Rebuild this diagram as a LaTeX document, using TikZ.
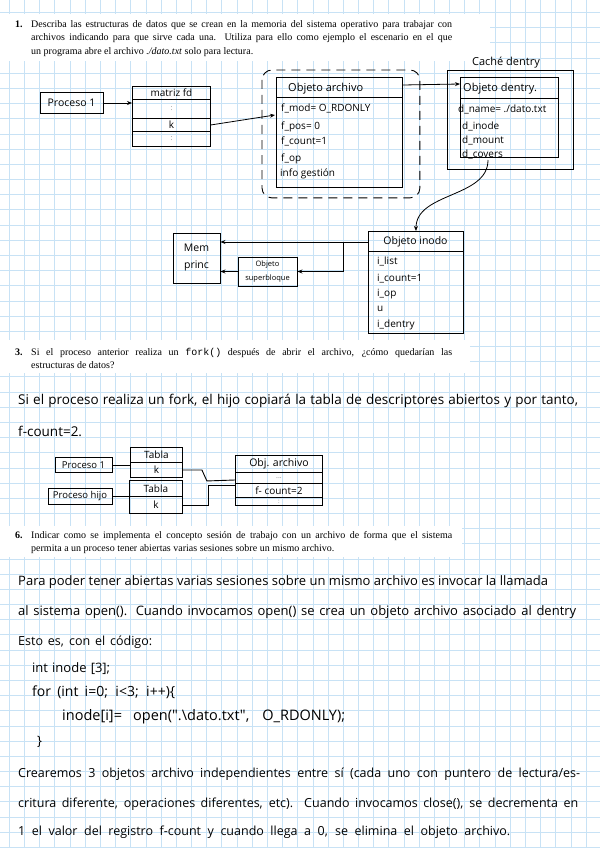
\documentclass[tikz,border=0pt]{standalone}
\usepackage{fontspec}
\setmainfont{Liberation Serif}
\setmonofont{Liberation Mono}
\newfontfamily\hand{Open Sans}
\usetikzlibrary{arrows.meta,calc}
\definecolor{gridblue}{RGB}{200,226,245}
\newcommand\hwl[2]{\makebox[#1][s]{#2}}
\newcommand\hs[1]{\hand\fontsize{#1}{#1}\selectfont}
\begin{document}
\begin{tikzpicture}[x=1pt,y=-1pt,
  hw/.style={font=\hs{10}, inner sep=0pt, anchor=base west},
  pr/.style={font=\fontsize{10}{12}\selectfont, inner sep=0pt, anchor=base west},
  box/.style={draw, line width=0.9pt, inner sep=0pt, font=\hs{10}},
  arr/.style={-{Stealth[length=5pt,width=4pt]}, line width=0.8pt},
  ln/.style={line width=0.9pt}]
\useasboundingbox (0,0) rectangle (600,848);
\fill[white] (0,0) rectangle (600,848);
\foreach \i in {0,...,39} \draw[gridblue, line width=0.8pt] ({9.3+15.18*\i},0) -- ({9.3+15.18*\i},848);
\foreach \i in {0,...,55} \draw[gridblue, line width=0.8pt] (0,{12.5+15.18*\i}) -- (600,{12.5+15.18*\i});
% white blocks behind printed questions
\fill[white] (0,14) rectangle (490,61);
\fill[white] (0,340) rectangle (470,373);
\fill[white] (0,526) rectangle (462,557);

% ---------- Question 1 ----------
\node[pr, font=\bfseries\fontsize{10}{12}\selectfont] (n1) at (15,27.5) {1.};
\node[pr] (q1a) at (31,27.5) {\makebox[421pt][s]{Describa las estructuras de datos que se crean en la memoria del sistema operativo para trabajar con}};
\node[pr] (q1b) at (31,40.8) {\makebox[421pt][s]{archivos indicando para que sirve cada una. Utiliza para ello como ejemplo el escenario en el que}};
\node[pr] (q1c) at (31,54.1) {un programa abre el archivo \textit{./dato.txt} solo para lectura.};

% Proceso 1 and matriz fd
\node[box, font=\hs{10.5}, minimum width=63pt, minimum height=21pt] (p1) at (71.5,103) {Proceso 1};
\node[box, minimum width=78pt, minimum height=13pt, anchor=north west] (mh) at (132,86) {matriz fd};
\node[box, font=\hs{7}, minimum width=78pt, minimum height=19pt, anchor=north west, text=gray] (m1) at (132,99) {:};
\node[box, minimum width=78pt, minimum height=13pt, anchor=north west] (mk) at (132,118) {k};
\node[box, font=\hs{7}, minimum width=78pt, minimum height=15pt, anchor=north west, text=gray] (m3) at (132,131) {:};
\draw[arr] (p1.east) -- (p1.east -| mh.west);

% Objeto archivo
\node[box, minimum width=126pt, minimum height=110pt, anchor=north west] (oa) at (276,77) {};
\draw[ln] ($(oa.north west)+(0,20)$) -- ($(oa.north east)+(0,20)$);
\draw[dashed, dash pattern=on 9pt off 6pt, rounded corners=10pt, line width=0.9pt]
  ($(oa.north west)+(-14,-7)$) rectangle ($(oa.south east)+(17,10)$);
\node[hw, font=\hs{11}] (oah) at (288,92) {Objeto archivo};
\node[hw] (fmod) at (281,112) {f\_mod= O\_RDONLY};
\node[hw] (fpos) at (281,130) {f\_pos= 0};
\node[hw] (fcnt) at (281,144) {f\_count=1};
\node[hw] (fop) at (281,161) {f\_op};
\node[hw] (finf) at (280,176) {info gestión};
\coordinate (oain) at (275,115);
\draw[arr] (mk.east) -- (oain);

% Cache dentry
\node[box, minimum width=126pt, minimum height=99pt, anchor=north west] (cd) at (447,70) {};
\node[hw, font=\hs{11}, anchor=base] (cdl) at (506,66) {Caché dentry};
\node[box, minimum width=98pt, minimum height=80pt, anchor=north west] (od) at (460,77) {};
\draw[ln] ($(od.north west)+(0,21)$) -- ($(od.north east)+(0,21)$);
\node[hw, font=\hs{11}] (odh) at (463,92) {Objeto dentry.};
\node[hw] (dnam) at (458,113) {d\_name= ./dato.txt};
\node[hw] (dino) at (462,129) {d\_inode};
\node[hw] (dmnt) at (462,143) {d\_mount};
\node[hw] (dcov) at (462,157.5) {d\_covers};
\draw[arr] ($(oa.north east)+(0,8)$) -- ($(od.north west)+(0,7)$);

% Objeto inodo
\node[box, minimum width=95pt, minimum height=102pt, anchor=north west] (oi) at (368,231) {};
\draw[ln] ($(oi.north west)+(0,20)$) -- ($(oi.north east)+(0,20)$);
\node[hw, font=\hs{10.5}, anchor=center] (oih) at (415.5,242) {Objeto inodo};
\node[hw] (ilst) at (377,264) {i\_list};
\node[hw] (icnt) at (377,281) {i\_count=1};
\node[hw] (iop) at (377,296) {i\_op};
\node[hw] (iu) at (377,311) {u};
\node[hw] (iden) at (377,327) {i\_dentry};
\coordinate (cv) at (488,160);
\draw[arr] (cv) .. controls (488,198) and (416,192) .. (oi.north);

% Mem princ and superbloque
\node[box, font=\hand\fontsize{10.5}{17}\selectfont, align=center, minimum width=47pt, minimum height=50pt] (mp) at (196.5,258) {Mem\\princ};
\node[box, font=\hand\fontsize{7.5}{14}\selectfont, align=center, minimum width=59pt, minimum height=29pt] (sb) at (267.5,271.5) {Objeto\\superbloque};
\coordinate (br) at (343,242);
\draw[arr] (oi.west |- oih) -- (mp.east |- oih);
\draw[arr] (br) |- (sb.east);
\draw[arr] (sb.west) -- (sb.west -| mp.east);

% ---------- Question 3 ----------
\node[pr, font=\bfseries\fontsize{10}{12}\selectfont] (n3) at (15,355.5) {3.};
\node[pr] (q3a) at (31,355.5) {\makebox[421pt][s]{Si el proceso anterior realiza un \texttt{fork()} después de abrir el archivo, ¿cómo quedarían las}};
\node[pr] (q3b) at (31,368.8) {estructuras de datos?};
\node[hw, font=\hs{13.5}] (a3a) at (18,404) {\hwl{560pt}{Si el proceso realiza un fork, el hijo copiará la tabla de descriptores abiertos y por tanto,}};
\node[hw, font=\hs{13.5}] (a3b) at (18,436) {f-count=2.};

% diagram 2
\node[box, font=\hs{9.5}, minimum width=57pt, minimum height=15pt] (q1p) at (83.5,465) {Proceso 1};
\node[box, font=\hs{9.5}, minimum width=64pt, minimum height=16pt] (qhp) at (80,496.5) {Proceso hijo};
\node[box, font=\hs{10}, minimum width=52pt, minimum height=15pt, anchor=north west] (t1h) at (130,447) {Tabla};
\node[box, font=\hs{10}, minimum width=52pt, minimum height=15pt, anchor=north west] (t1k) at (130,462) {k};
\node[box, font=\hs{10}, minimum width=53pt, minimum height=16pt, anchor=north west] (t2h) at (129,480) {Tabla};
\node[box, font=\hs{10}, minimum width=53pt, minimum height=17pt, anchor=north west] (t2k) at (129,496) {k};
\node[box, font=\hs{10.5}, minimum width=87pt, minimum height=17pt, anchor=north west] (ob) at (235,455) {Obj. archivo};
\node[box, font=\hs{7}, minimum width=87pt, minimum height=11pt, anchor=north west, text=gray] (ob1) at (235,472) {...};
\node[box, font=\hs{10}, minimum width=87pt, minimum height=14pt, anchor=north west] (ob2) at (235,483) {f- count=2};
\node[box, font=\hs{6}, minimum width=87pt, minimum height=8pt, anchor=north west, text=gray] (ob3) at (235,497) {:};
\draw[ln] (q1p.east) -- (q1p.east -| t1h.west);
\draw[ln] (qhp.east) -- (qhp.east -| t2h.west);
\coordinate (in1) at (235,480);
\coordinate (in2) at (235,485);
\draw[ln] (t1k.east) -- ++(19,0) -- ++(5,11) -- (in1);
\draw[ln] (t2k.east) -- ++(26,0) |- (in2);

% ---------- Question 6 ----------
\node[pr, font=\bfseries\fontsize{10}{12}\selectfont] (n6) at (15,538.5) {6.};
\node[pr] (q6a) at (31,538.5) {\makebox[421pt][s]{Indicar como se implementa el concepto sesión de trabajo con un archivo de forma que el sistema}};
\node[pr] (q6b) at (31,551.8) {permita a un proceso tener abiertas varias sesiones sobre un mismo archivo.};

\node[hw, font=\hs{13}] (a6a) at (18,585) {\hwl{530pt}{Para poder tener abiertas varias sesiones sobre un mismo archivo es invocar la llamada}};
\node[hw, font=\hs{13}] (a6b) at (18,615) {\hwl{558pt}{al sistema open(). Cuando invocamos open() se crea un objeto archivo asociado al dentry}};
\node[hw, font=\hs{12.5}] (a6c) at (18,645) {\hwl{134pt}{Esto es, con el código:}};
\node[hw, font=\hs{13}] (c1) at (32,672) {\hwl{78pt}{int inode [3];}};
\node[hw, font=\hs{14}] (c2) at (32,696) {\hwl{143pt}{for (int i=0; i<3; i++)\{}};
\node[hw, font=\hs{14.5}] (c3) at (62,720) {\hwl{283pt}{inode[i]= open(".\textbackslash dato.txt", O\_RDONLY);}};
\node[hw, font=\hs{13}] (c4) at (37,745) {\}};
\node[hw, font=\hs{12.5}] (a6d) at (18,777) {\hwl{562pt}{Crearemos 3 objetos archivo independientes entre sí (cada uno con puntero de lectura/es-}};
\node[hw, font=\hs{12.5}] (a6e) at (18,807) {\hwl{560pt}{critura diferente, operaciones diferentes, etc). Cuando invocamos close(), se decrementa en}};
\node[hw, font=\hs{12.5}] (a6f) at (18,835) {\hwl{492pt}{1 el valor del registro f-count y cuando llega a 0, se elimina el objeto archivo.}};
\end{tikzpicture}
\end{document}
